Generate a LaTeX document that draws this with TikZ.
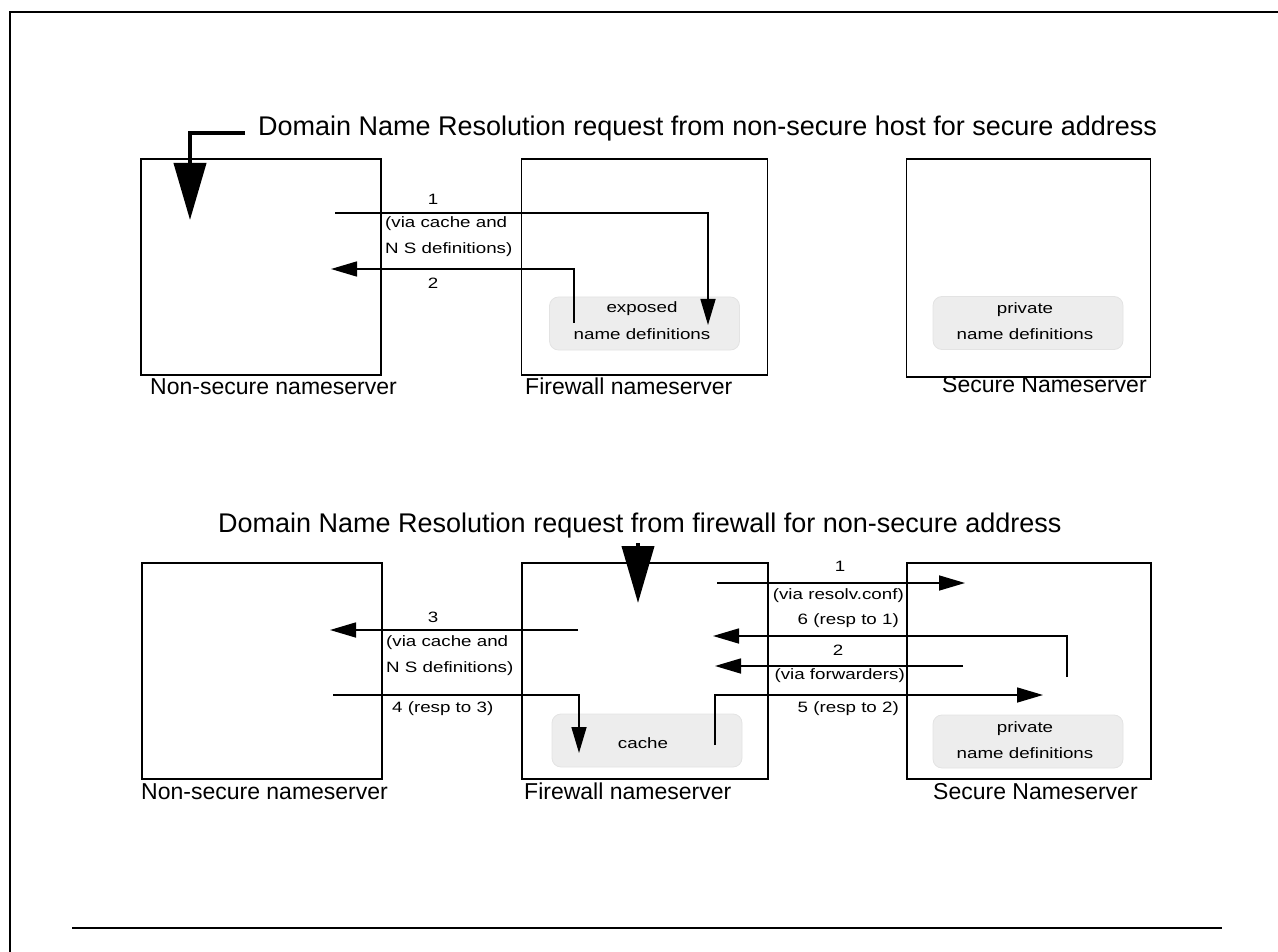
\documentclass[tikz,border=0pt]{standalone}
\usepackage{fontspec}
\setmainfont{Liberation Sans}
\newfontfamily\smallf[FakeStretch=1.25]{Liberation Sans}
\usetikzlibrary{arrows.meta}
\begin{document}
\begin{tikzpicture}[x=1pt,y=-1pt,
  srv/.style={draw,line width=1.6pt,minimum width=#1,minimum height=216pt,inner sep=0pt},
  defs/.style={rounded corners=9pt,draw=gray!22,fill=gray!14,line width=0.8pt,minimum width=190pt,minimum height=53pt,inner sep=0pt},
  lbl/.style={inner sep=0pt,font=\smallf\fontsize{15}{25}\selectfont},
  big/.style={inner sep=0pt,font=\fontsize{23}{26}\selectfont},
  ttl/.style={inner sep=0pt,font=\fontsize{27}{30}\selectfont},
  conn/.style={line width=1.6pt,-{Triangle[length=26pt,width=15pt]}},
  bigarrow/.style={line width=4pt,-{Triangle[length=57pt,width=32pt]}}]
\useasboundingbox (0,0) rectangle (1278,952);
\draw[line width=1.5pt] (10,952) -- (10,12) -- (1278,12);
\draw[line width=2.5pt] (72,928) -- (1222,928);

% ---------- top diagram ----------
\node[ttl,anchor=mid west] (t1) at (258,133) {Domain Name Resolution request from non-secure host for secure address};
\node[srv=240pt] (a1) at (261,267) {};
\node[srv=246pt] (b1) at (644.5,267) {};
\node[srv=244pt,minimum height=218pt] (c1) at (1028.5,268) {};
\node[defs] (e1) at (644.5,323.5) {};
\node[lbl] (e1t) at (642,309) {exposed};
\node[lbl] (e1u) at (642,334) {name definitions};
\node[defs] (p1) at (1028,323) {};
\node[lbl] (p1t) at (1025,310) {private};
\node[lbl] (p1u) at (1025,334) {name definitions};
\node[big,anchor=mid west] (la1) at (150,392) {Non-secure nameserver};
\node[big,anchor=mid west] (lb1) at (525,392) {Firewall nameserver};
\node[big,anchor=mid west] (lc1) at (942,390) {Secure Nameserver};

\coordinate (s0) at (245,133);
\coordinate (s0b) at (190,133);
\coordinate (s0e) at (190,220);
\draw[bigarrow] (s0) -- (s0b) -- (s0e);

\coordinate (q1s) at (335,213);
\coordinate (q1e) at (708,325);
\draw[conn] (q1s) -| (q1e);
\coordinate (r2s) at (574,323);
\coordinate (r2e) at (331,269);
\draw[conn] (r2s) |- (r2e);
\node[lbl] (n1) at (433,199) {1};
\node[lbl,anchor=mid west] (n1a) at (385,225) {(via cache and};
\node[lbl,anchor=mid west] (n1b) at (385,251) {N S definitions)};
\node[lbl] (n2) at (433,283) {2};

% ---------- bottom diagram ----------
\node[ttl,anchor=mid west] (t2) at (218,530) {Domain Name Resolution request from firewall for non-secure address};
\node[srv=240pt] (a2) at (262,671) {};
\node[srv=246pt] (b2) at (645,671) {};
\node[srv=244pt] (c2) at (1029,671) {};
\node[defs] (k2) at (647,740.5) {};
\node[lbl] (k2t) at (643,743) {cache};
\node[defs] (p2) at (1028,741.5) {};
\node[lbl] (p2t) at (1025,729) {private};
\node[lbl] (p2u) at (1025,753) {name definitions};
\node[big,anchor=mid west] (la2) at (141,797) {Non-secure nameserver};
\node[big,anchor=mid west] (lb2) at (524,797) {Firewall nameserver};
\node[big,anchor=mid west] (lc2) at (933,797) {Secure Nameserver};

\coordinate (d0) at (638,543);
\coordinate (d0e) at (638,603);
\draw[bigarrow] (d0) -- (d0e);

% 3
\coordinate (m3s) at (578,630);
\coordinate (m3e) at (330,630);
\draw[conn] (m3s) -- (m3e);
% 4
\coordinate (m4s) at (333,695);
\coordinate (m4e) at (579,753);
\draw[conn] (m4s) -| (m4e);
% 1
\coordinate (m1s) at (717,583);
\coordinate (m1e) at (965,583);
\draw[conn] (m1s) -- (m1e);
% 6
\coordinate (m6s) at (1067,677);
\coordinate (m6e) at (713,636);
\draw[conn] (m6s) |- (m6e);
% 2
\coordinate (m2s) at (963,666);
\coordinate (m2e) at (715,666);
\draw[conn] (m2s) -- (m2e);
% 5
\coordinate (m5s) at (715,745);
\coordinate (m5e) at (1043,695);
\draw[conn] (m5s) |- (m5e);

\node[lbl] (o3) at (433,617) {3};
\node[lbl,anchor=mid west] (o3a) at (386,644) {(via cache and};
\node[lbl,anchor=mid west] (o3b) at (386,670) {N S definitions)};
\node[lbl,anchor=mid west] (o4) at (392,710) {4 (resp to 3)};
\node[lbl] (o1) at (840,566) {1};
\node[lbl,anchor=mid east] (o1a) at (904,597) {(via resolv.conf)};
\node[lbl,anchor=mid east] (o6) at (899,622) {6 (resp to 1)};
\node[lbl] (o2) at (838,650) {2};
\node[lbl,anchor=mid east] (o2a) at (905,677) {(via forwarders)};
\node[lbl,anchor=mid east] (o5) at (899,710) {5 (resp to 2)};
\end{tikzpicture}
\end{document}
